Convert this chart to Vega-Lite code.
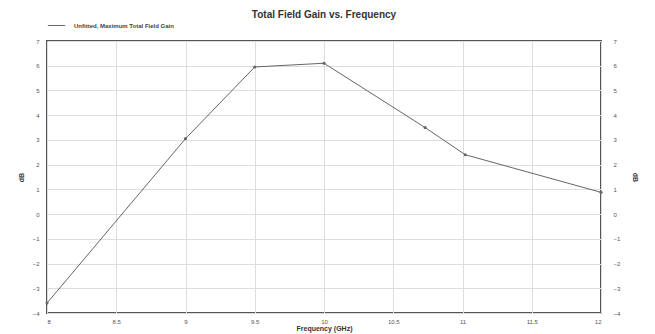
{
  "$schema": "https://vega.github.io/schema/vega-lite/v6.json",
  "autosize": {"type": "none"},
  "width": 554,
  "height": 272,
  "padding": {"left": 47, "top": 41, "right": 54, "bottom": 21},
  "title": {
    "text": "Total Field Gain vs. Frequency",
    "font": "Liberation Sans",
    "fontSize": 10,
    "fontWeight": "bold",
    "color": "#333",
    "anchor": "middle",
    "offset": -4
  },
  "data": {
    "values": [
      {"freq": 8.0, "gain": -3.6, "series": "Unfitted, Maximum Total Field Gain"},
      {"freq": 9.0, "gain": 3.05, "series": "Unfitted, Maximum Total Field Gain"},
      {"freq": 9.5, "gain": 5.95, "series": "Unfitted, Maximum Total Field Gain"},
      {"freq": 10.0, "gain": 6.1, "series": "Unfitted, Maximum Total Field Gain"},
      {"freq": 10.73, "gain": 3.5, "series": "Unfitted, Maximum Total Field Gain"},
      {"freq": 11.02, "gain": 2.4, "series": "Unfitted, Maximum Total Field Gain"},
      {"freq": 12.0, "gain": 0.88, "series": "Unfitted, Maximum Total Field Gain"}
    ]
  },
  "config": {
    "view": {"stroke": "#555", "strokeWidth": 2},
    "axis": {
      "labelFont": "Liberation Sans",
      "labelFontSize": 6,
      "labelColor": "#555",
      "titleFont": "Liberation Sans",
      "titleFontSize": 7,
      "titleFontWeight": "bold",
      "titleColor": "#333",
      "gridColor": "#ddd",
      "gridWidth": 1,
      "domain": false,
      "ticks": false,
      "labelPadding": 8
    }
  },
  "layer": [
    {
      "mark": {"type": "line", "color": "#666", "strokeWidth": 1, "point": {"filled": true, "size": 10, "color": "#555"}},
      "encoding": {
        "x": {
          "field": "freq", "type": "quantitative",
          "scale": {"domain": [8, 12], "nice": false},
          "axis": {"values": [8, 8.5, 9, 9.5, 10, 10.5, 11, 11.5, 12], "format": ".1~f", "title": "Frequency (GHz)", "titlePadding": 0, "labelPadding": 5}
        },
        "y": {
          "field": "gain", "type": "quantitative",
          "scale": {"domain": [-4, 7], "nice": false},
          "axis": {"values": [-4, -3, -2, -1, 0, 1, 2, 3, 4, 5, 6, 7], "title": "dB", "orient": "left", "titlePadding": 8}
        },
        "color": {
          "field": "series", "type": "nominal",
          "scale": {"range": ["#666"]},
          "legend": {
            "title": null,
            "orient": "top",
            "labelFont": "Liberation Sans",
            "labelFontSize": 6,
            "labelFontWeight": "bold",
            "labelColor": "#444",
            "symbolType": "stroke",
            "symbolSize": 300,
            "symbolStrokeWidth": 1,
            "labelOffset": 8,
            "offset": 12,
            "padding": 0
          }
        }
      }
    },
    {
      "mark": {"type": "line", "opacity": 0},
      "encoding": {
        "x": {"field": "freq", "type": "quantitative"},
        "y": {
          "field": "gain", "type": "quantitative",
          "axis": {"values": [-4, -3, -2, -1, 0, 1, 2, 3, 4, 5, 6, 7], "title": "dB", "orient": "right", "grid": false, "labelPadding": 12, "titlePadding": 12}
        }
      }
    }
  ],
  "resolve": {"axis": {"y": "independent"}}
}
